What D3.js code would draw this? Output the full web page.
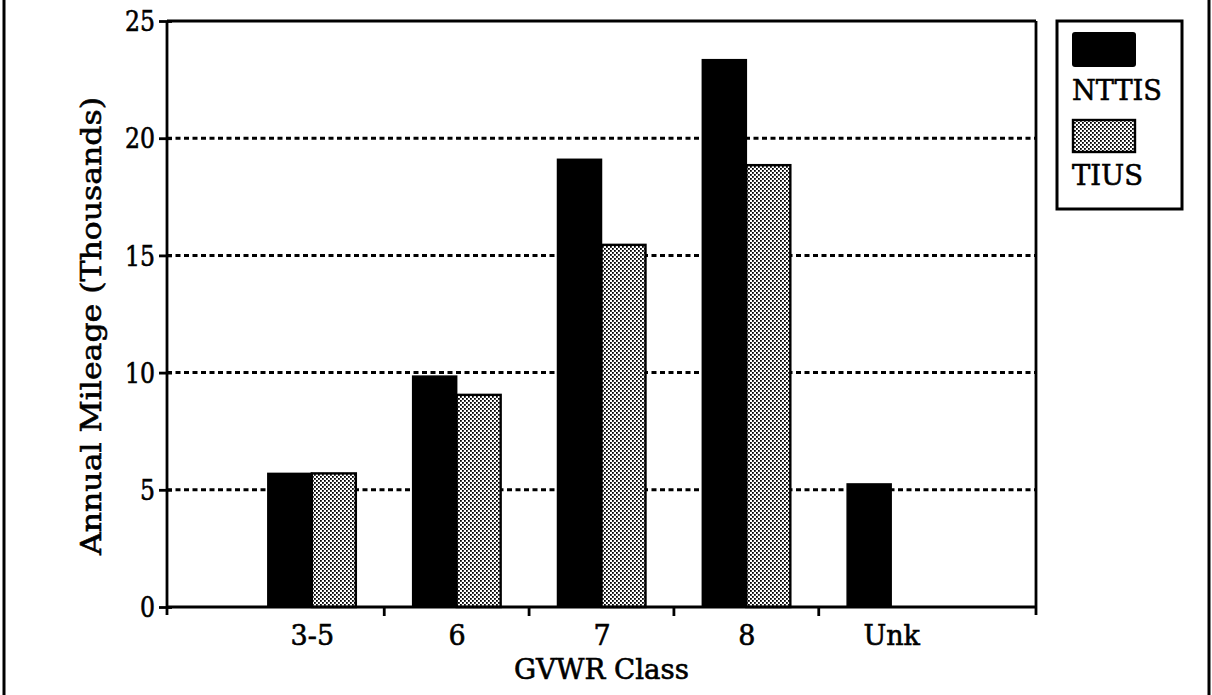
<!DOCTYPE html>
<html><head><meta charset="utf-8">
<script src="https://cdn.jsdelivr.net/npm/d3@7"></script>
<style>html,body{margin:0;padding:0;background:#fff;}svg{display:block;}</style>
</head><body>
<script>
const categories = ["3-5", "6", "7", "8", "Unk"];
const seriesNames = ["NTTIS", "TIUS"];
const nttis = [5.7, 9.85, 19.1, 23.35, 5.25];
const tius = [5.7, 9.05, 15.45, 18.85, null];
const yTicks = [0, 5, 10, 15, 20, 25];
const xTitle = "GVWR Class";
const yTitle = "Annual Mileage (Thousands)";

const W = 1212, H = 695;
const svg = d3.select("body").append("svg").attr("width", W).attr("height", H);
const font = "'DejaVu Serif', 'Liberation Serif', serif";

const defs = svg.append("defs");
const pat = defs.append("pattern").attr("id", "stip").attr("patternUnits", "userSpaceOnUse")
  .attr("width", 4).attr("height", 4);
pat.append("rect").attr("width", 4).attr("height", 4).attr("fill", "#fff");
pat.append("rect").attr("x", 0).attr("y", 0).attr("width", 1.8).attr("height", 1.8).attr("fill", "#000");
pat.append("rect").attr("x", 2).attr("y", 2).attr("width", 1.8).attr("height", 1.8).attr("fill", "#000");

// outer frame
svg.append("line").attr("x1", 4).attr("x2", 4).attr("y1", 0).attr("y2", H).attr("stroke", "#000").attr("stroke-width", 3);
svg.append("line").attr("x1", 1209).attr("x2", 1209).attr("y1", 0).attr("y2", H).attr("stroke", "#000").attr("stroke-width", 3);

const L = 167, R = 1036, T = 21, B = 607;
const step = (R - L) / (categories.length + 1);
const x = d3.scalePoint().domain(categories).range([L + step, R - step]);
const y = d3.scaleLinear().domain([0, 25]).range([B, T]);
const barW = 44;

// gridlines
svg.append("g").selectAll("line").data(yTicks.filter(d => d > 0 && d < 25)).join("line")
  .attr("x1", L).attr("x2", R).attr("y1", d => y(d)).attr("y2", d => y(d))
  .attr("stroke", "#000").attr("stroke-width", 3).attr("stroke-dasharray", "5,3.5");

// bars
const g = svg.append("g");
g.selectAll("rect.n").data(categories).join("rect").attr("class", "n")
  .attr("x", d => x(d) - barW).attr("width", barW)
  .attr("y", (d, i) => y(nttis[i])).attr("height", (d, i) => B - y(nttis[i]))
  .attr("fill", "#000").attr("stroke", "#000").attr("stroke-width", 1.5);
g.selectAll("rect.t").data(categories.filter((d, i) => tius[i] != null)).join("rect").attr("class", "t")
  .attr("x", d => x(d)).attr("width", barW)
  .attr("y", d => y(tius[categories.indexOf(d)])).attr("height", d => B - y(tius[categories.indexOf(d)]))
  .attr("fill", "url(#stip)").attr("stroke", "#000").attr("stroke-width", 2.4);

// plot frame (top, right)
svg.append("line").attr("x1", L).attr("x2", R).attr("y1", T).attr("y2", T).attr("stroke", "#000").attr("stroke-width", 2.8);
svg.append("line").attr("x1", R).attr("x2", R).attr("y1", T).attr("y2", B + 8).attr("stroke", "#000").attr("stroke-width", 2.8);

const textStyle = sel => sel.attr("font-family", font).attr("fill", "#000")
  .attr("stroke", "#000").attr("stroke-width", 0.6);

// y axis
const yAxis = svg.append("g").attr("transform", `translate(${L},0)`)
  .call(d3.axisLeft(y).tickValues(yTicks).tickSize(0).tickPadding(12));
yAxis.select(".domain").remove();
yAxis.append("line").attr("x1", 0).attr("x2", 0).attr("y1", T).attr("y2", B + 8).attr("stroke", "#000").attr("stroke-width", 2.8);
yAxis.selectAll(".tick").append("line").attr("x1", -8).attr("x2", 5).attr("stroke", "#000").attr("stroke-width", 2.8);
yAxis.selectAll(".tick text").call(textStyle).attr("font-size", 27).attr("dy", "0.36em")
  .attr("textLength", d => String(d).length * 15).attr("lengthAdjust", "spacingAndGlyphs");

// x axis
const xAxis = svg.append("g").attr("transform", `translate(0,${B})`)
  .call(d3.axisBottom(x).tickSize(0).tickPadding(38));
xAxis.select(".domain").remove();
xAxis.append("line").attr("x1", L).attr("x2", R).attr("y1", 0).attr("y2", 0).attr("stroke", "#000").attr("stroke-width", 2.8);
const mids = categories.slice(0, -1).map(c => x(c) + step / 2);
xAxis.selectAll("line.mt").data(mids).join("line").attr("class", "mt")
  .attr("x1", d => d).attr("x2", d => d).attr("y1", 0).attr("y2", 9).attr("stroke", "#000").attr("stroke-width", 2.8);
xAxis.selectAll(".tick text").call(textStyle).attr("font-size", 27).attr("dy", "0");

// titles
svg.append("text").attr("x", (L + R) / 2).attr("y", 679).attr("text-anchor", "middle").call(textStyle)
  .attr("font-size", 27).attr("textLength", 175).attr("lengthAdjust", "spacingAndGlyphs").text(xTitle);
svg.append("text").attr("transform", `translate(101,326) rotate(-90)`).attr("text-anchor", "middle").call(textStyle)
  .attr("font-size", 27).attr("textLength", 458).attr("lengthAdjust", "spacingAndGlyphs").text(yTitle);

// legend
const lg = svg.append("g");
lg.append("rect").attr("x", 1057).attr("y", 21).attr("width", 125).attr("height", 188).attr("fill", "none").attr("stroke", "#000").attr("stroke-width", 3);
lg.append("rect").attr("x", 1072).attr("y", 32).attr("width", 64).attr("height", 35).attr("rx", 3).attr("fill", "#000");
lg.append("text").attr("x", 1072).attr("y", 100).call(textStyle).attr("font-size", 28)
  .attr("textLength", 90).attr("lengthAdjust", "spacingAndGlyphs").text(seriesNames[0]);
lg.append("rect").attr("x", 1073).attr("y", 120).attr("width", 62).attr("height", 32).attr("fill", "url(#stip)").attr("stroke", "#000").attr("stroke-width", 2.4);
lg.append("text").attr("x", 1072).attr("y", 185).call(textStyle).attr("font-size", 28)
  .attr("textLength", 71).attr("lengthAdjust", "spacingAndGlyphs").text(seriesNames[1]);
</script>
</body></html>
